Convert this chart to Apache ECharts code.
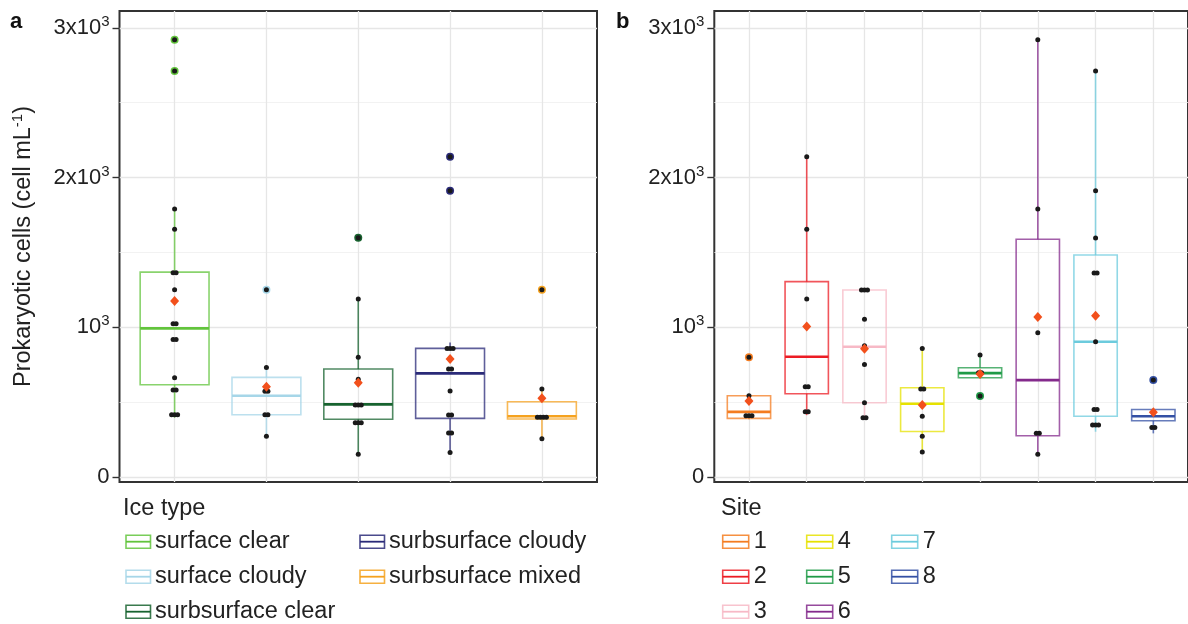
<!DOCTYPE html>
<html>
<head>
<meta charset="utf-8">
<script src="https://cdn.jsdelivr.net/npm/echarts@6/dist/echarts.min.js"></script>
<style>
  html, body { margin: 0; padding: 0; background: #fff; }
  #main { width: 1188px; height: 624px; }
</style>
</head>
<body>
<div id="main"></div>
<script>
// panel a: ice type
var iceTypes = ['surface clear', 'surface cloudy', 'surbsurface clear', 'surbsurface cloudy', 'surbsurface mixed'];
var iceColors = ['#62c43c', '#a6d6e8', '#17632f', '#2a2a78', '#f5a21f'];
// [lower whisker, Q1, median, Q3, upper whisker]
var iceBoxes = [
  [395, 615, 992, 1368, 1789],
  [270, 414, 541, 664, 731],
  [150, 384, 484, 720, 1188],
  [163, 390, 691, 858, 898],
  [254, 386, 404, 501, 586]
];
var iceMeans = [1174, 602, 628, 787, 524];
var iceOutliers = [[2921, 2712], [1250], [1598], [2139, 1912], [1250]];
var icePoints = [
  [2921, 2712, 1789, 1655, 1364, 1364, 1250, 1023, 1023, 918, 918, 662, 580, 580, 414, 414, 414],
  [1250, 731, 571, 571, 414, 414, 270],
  [1598, 1188, 798, 651, 479, 479, 479, 361, 361, 361, 150],
  [2139, 1912, 858, 858, 858, 720, 720, 573, 412, 412, 292, 292, 163],
  [1250, 586, 397, 397, 397, 397, 254]
];

// panel b: site
var sites = ['1', '2', '3', '4', '5', '6', '7', '8'];
var siteColors = ['#f47c20', '#ec1c24', '#f7b9c6', '#e6e200', '#1f9a47', '#842a8c', '#6ccbdd', '#3450a4'];
var siteBoxes = [
  [384, 390, 434, 541, 541],
  [412, 555, 802, 1304, 2139],
  [401, 495, 869, 1248, 1248],
  [165, 303, 488, 595, 858],
  [662, 662, 693, 729, 813],
  [150, 274, 646, 1587, 2921],
  [301, 404, 902, 1482, 2712],
  [290, 374, 404, 450, 450]
];
var siteMeans = [506, 1005, 856, 479, 686, 1067, 1076, 432];
var siteOutliers = [[798], [], [], [], [539], [], [], [646]];
var sitePoints = [
  [798, 541, 408, 408, 408],
  [2139, 1655, 1188, 1003, 602, 602, 434, 434],
  [1248, 1248, 1248, 1052, 876, 751, 495, 394, 394],
  [858, 586, 586, 478, 404, 270, 165],
  [813, 695, 695, 539],
  [2921, 1789, 963, 290, 290, 150],
  [2712, 1912, 1596, 1362, 1362, 902, 450, 450, 346, 346, 346],
  [646, 430, 330, 330]
];

var yTicks = [0, 1000, 2000, 3000];
var yGrid = [0, 500, 1000, 1500, 2000, 2500, 3000];

var FONT = 'Liberation Sans, Arial, Helvetica, sans-serif';
var MEAN_COLOR = '#f2501c';

function fade(hex, a) {
  var n = parseInt(hex.slice(1), 16);
  return 'rgba(' + (n >> 16 & 255) + ',' + (n >> 8 & 255) + ',' + (n & 255) + ',' + a + ')';
}

function boxRender(colors) {
  return function (params, api) {
    var x = api.value(0);
    var lo = api.coord([x, api.value(1)]);
    var q1 = api.coord([x, api.value(2)]);
    var med = api.coord([x, api.value(3)]);
    var q3 = api.coord([x, api.value(4)]);
    var hi = api.coord([x, api.value(5)]);
    var bw = api.size([1, 0])[0] * 0.75;
    var c = colors[params.dataIndex];
    var st = { stroke: fade(c, 0.75), lineWidth: 1.6, fill: 'transparent' };
    return {
      type: 'group',
      children: [
        { type: 'line', shape: { x1: lo[0], y1: lo[1], x2: q1[0], y2: q1[1] }, style: st },
        { type: 'line', shape: { x1: q3[0], y1: q3[1], x2: hi[0], y2: hi[1] }, style: st },
        { type: 'rect', shape: { x: q3[0] - bw / 2, y: q3[1], width: bw, height: q1[1] - q3[1] }, style: st },
        { type: 'line', shape: { x1: med[0] - bw / 2, y1: med[1], x2: med[0] + bw / 2, y2: med[1] }, style: { stroke: c, lineWidth: 2.6 } }
      ]
    };
  };
}

// spread overlapping duplicates a little, like the jitter in the original
function pointData(groups) {
  var out = [];
  groups.forEach(function (vals, i) {
    var count = {};
    vals.forEach(function (v) { count[v] = (count[v] || 0) + 1; });
    var seen = {};
    vals.forEach(function (v) {
      var k = seen[v] || 0; seen[v] = k + 1;
      out.push({ value: [i + 1, v], symbolOffset: [(k - (count[v] - 1) / 2) * 3, 0] });
    });
  });
  return out;
}

function outlierData(groups, colors) {
  var out = [];
  groups.forEach(function (vals, i) {
    vals.forEach(function (v) {
      out.push({ value: [i + 1, v], itemStyle: { color: colors[i] } });
    });
  });
  return out;
}

function gridLines(n) {
  var d = [];
  yGrid.forEach(function (v) {
    d.push({ yAxis: v, lineStyle: { width: v % 1000 === 0 ? 1.3 : 0.8, color: v % 1000 === 0 ? '#e6e6e6' : '#efefef' } });
  });
  for (var i = 1; i <= n; i++) d.push({ xAxis: i, lineStyle: { width: 1.3, color: '#e6e6e6' } });
  return d;
}

function panelSeries(idx, cats, colors, boxes, means, outliers, points) {
  return [
    {
      type: 'scatter', xAxisIndex: idx, yAxisIndex: idx, data: [], z: 0, silent: true,
      markLine: { silent: true, z: 0, symbol: 'none', label: { show: false }, animation: false,
        lineStyle: { type: 'solid' }, data: gridLines(cats.length) }
    },
    {
      type: 'custom', xAxisIndex: idx, yAxisIndex: idx, z: 2,
      renderItem: boxRender(colors),
      encode: { x: 0, y: [1, 2, 3, 4, 5] },
      data: boxes.map(function (b, i) { return [i + 1].concat(b); })
    },
    {
      type: 'scatter', xAxisIndex: idx, yAxisIndex: idx, z: 3, symbolSize: 8,
      itemStyle: { opacity: 1 },
      data: outlierData(outliers, colors)
    },
    {
      type: 'scatter', xAxisIndex: idx, yAxisIndex: idx, z: 4, symbolSize: 5,
      itemStyle: { color: '#1a1a1a', opacity: 1 },
      data: pointData(points)
    },
    {
      type: 'scatter', xAxisIndex: idx, yAxisIndex: idx, z: 5, symbol: 'diamond', symbolSize: [9, 10],
      itemStyle: { color: MEAN_COLOR, opacity: 1 },
      data: means.map(function (m, i) { return [i + 1, m]; })
    }
  ];
}

function tickLabel(v) {
  if (v === 0) return '{b|0}';
  if (v === 1000) return '{b|10}{s|3}';
  return '{b|' + (v / 1000) + 'x10}{s|3}';
}

function yAxisFor(idx, withName) {
  var ax = {
    type: 'value', gridIndex: idx, min: -35, max: 3113,
    axisLine: { show: false },
    splitLine: { show: false },
    axisTick: { show: true, length: 7, customValues: yTicks, lineStyle: { color: '#333', width: 1.4 } },
    axisLabel: {
      customValues: yTicks, margin: 10, color: '#222', fontFamily: FONT, fontSize: 22,
      formatter: tickLabel,
      rich: {
        b: { fontSize: 22, fontFamily: FONT, color: '#222' },
        s: { fontSize: 15, fontFamily: FONT, color: '#222', verticalAlign: 'bottom', padding: [0, 0, 12, 0] }
      }
    }
  };
  if (withName) {
    ax.name = 'Prokaryotic cells (cell mL{s|-1})';
    ax.nameLocation = 'middle';
    ax.nameGap = 83;
    ax.nameTextStyle = {
      fontFamily: FONT, fontSize: 23.5, color: '#222',
      rich: { s: { fontSize: 15, fontFamily: FONT, color: '#222', verticalAlign: 'bottom', padding: [0, 0, 11, 0] } }
    };
  }
  return ax;
}

function xAxisFor(idx, n) {
  return {
    type: 'value', gridIndex: idx, min: 0.4, max: n + 0.6,
    axisLine: { show: false }, axisTick: { show: false }, axisLabel: { show: false }, splitLine: { show: false }
  };
}

function legendGraphics(title, cats, colors, x0, cols, keyW, textDx) {
  var g = [{ type: 'text', left: x0, top: 497, style: { text: title, font: '23.5px ' + FONT, fill: '#222' } }];
  var rows = [541.7, 576.7, 611.7];
  cats.forEach(function (c, i) {
    var cx = cols[Math.floor(i / 3)];
    var cy = rows[i % 3];
    g.push({ type: 'rect', shape: { x: cx, y: cy - 6.5, width: keyW, height: 13 },
      style: { fill: 'transparent', stroke: fade(colors[i], 0.85), lineWidth: 1.6 } });
    g.push({ type: 'line', shape: { x1: cx, y1: cy, x2: cx + keyW, y2: cy },
      style: { stroke: colors[i], lineWidth: 1.8 } });
    g.push({ type: 'text', x: cx + textDx, y: cy, style: { text: c, font: '23.5px ' + FONT, fill: '#222', textVerticalAlign: 'middle' } });
  });
  return g;
}

var myChart = echarts.init(document.getElementById('main'));
var option = {
  animation: false,
  backgroundColor: '#fff',
  grid: [
    { left: 119.5, right: 1188 - 597, top: 11, bottom: 624 - 482, show: true, borderColor: '#333', borderWidth: 2, backgroundColor: 'transparent' },
    { left: 714.3, right: -5.2, top: 11, bottom: 624 - 482, show: true, borderColor: '#333', borderWidth: 2, backgroundColor: 'transparent' }
  ],
  xAxis: [xAxisFor(0, iceTypes.length), xAxisFor(1, sites.length)],
  yAxis: [yAxisFor(0, true), yAxisFor(1, false)],
  series: panelSeries(0, iceTypes, iceColors, iceBoxes, iceMeans, iceOutliers, icePoints)
    .concat(panelSeries(1, sites, siteColors, siteBoxes, siteMeans, siteOutliers, sitePoints)),
  graphic: [
    { type: 'text', left: 10, top: 11, style: { text: 'a', font: 'bold 22px ' + FONT, fill: '#111' } },
    { type: 'text', left: 616, top: 11, style: { text: 'b', font: 'bold 22px ' + FONT, fill: '#111' } }
  ].concat(legendGraphics('Ice type', iceTypes, iceColors, 123, [126, 360], 24.5, 29))
   .concat(legendGraphics('Site', sites, siteColors, 721, [722.7, 806.7, 891.7], 26, 31))
};
myChart.setOption(option);
</script>
</body>
</html>
